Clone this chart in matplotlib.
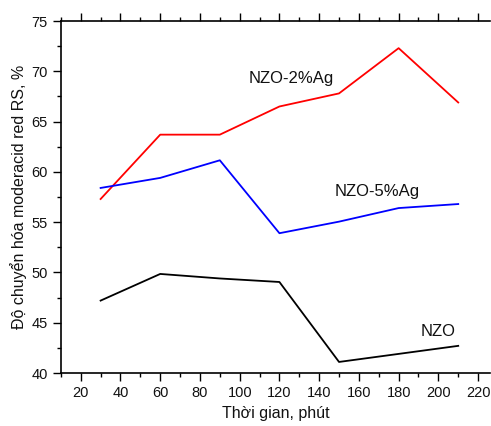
import matplotlib.pyplot as plt
from matplotlib.ticker import MultipleLocator

plt.rcParams['font.family'] = ['Liberation Sans', 'DejaVu Sans']

# -------- DATA --------
time_min = [30, 60, 90, 120, 150, 180, 210]
nzo = [47.2, 49.85, 49.4, 49.05, 41.1, 41.9, 42.7]
nzo_2ag = [57.3, 63.7, 63.7, 66.5, 67.8, 72.3, 66.9]
nzo_5ag = [58.4, 59.4, 61.15, 53.9, 55.05, 56.4, 56.8]

series_names = ["NZO", "NZO-2%Ag", "NZO-5%Ag"]
label_pos = [(200, 44.1), (126, 69.3), (169, 58.0)]

# -------- PLOT --------
fig = plt.figure(figsize=(4.91, 4.26), dpi=100)
ax = fig.add_axes([0.124, 0.1244, 0.874, 0.8263])

ax.plot(time_min, nzo, color="black", linewidth=1.3)
ax.plot(time_min, nzo_2ag, color="red", linewidth=1.3)
ax.plot(time_min, nzo_5ag, color="blue", linewidth=1.3)

for name, (x, y) in zip(series_names, label_pos):
    ax.text(x, y, name, fontsize=12, ha="center", va="center", color="#111111")

ax.set_xlim(10, 226)
ax.set_ylim(40, 75)

ax.xaxis.set_major_locator(MultipleLocator(20))
ax.xaxis.set_minor_locator(MultipleLocator(10))
ax.yaxis.set_major_locator(MultipleLocator(5))
ax.yaxis.set_minor_locator(MultipleLocator(2.5))

ax.spines["right"].set_visible(False)
for s in ["left", "bottom", "top"]:
    ax.spines[s].set_linewidth(1.2)

ax.tick_params(which="both", direction="out", top=True, labeltop=False,
               width=1.0, labelsize=10.5, labelcolor="#111111")
ax.tick_params(which="major", length=6)
ax.tick_params(which="minor", length=3)

ax.set_xlabel("Thời gian, phút", fontsize=11.5, labelpad=4, color="#111111")
ax.set_ylabel("Độ chuyển hóa moderacid red RS, %", fontsize=11.5, labelpad=3,
              color="#111111")

plt.savefig("out.png", dpi=100)
